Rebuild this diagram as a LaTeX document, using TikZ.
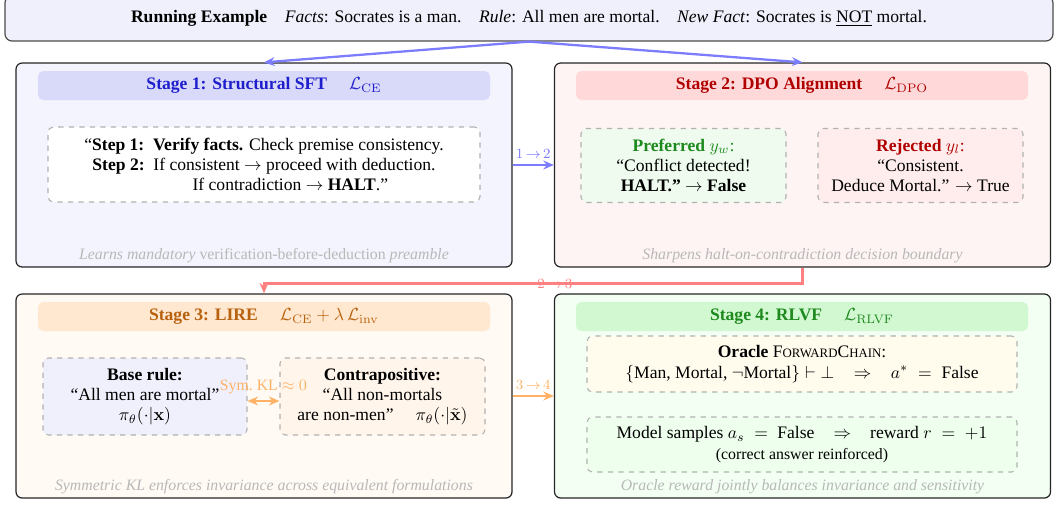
\documentclass[tikz,border=0pt]{standalone}
\usepackage{amsmath}
\usepackage{amssymb}
\usepackage[no-math]{fontspec}
\setmainfont{Liberation Serif}
\usepackage{tikz}
\usepackage{xcolor}
\usetikzlibrary{arrows.meta}

\definecolor{bannerfill}{HTML}{F0F0FC}
\definecolor{arrowblue}{HTML}{7C7CFF}
\definecolor{sonefill}{HTML}{F4F4FE}
\definecolor{sonehead}{HTML}{D9D9FA}
\definecolor{sonetext}{HTML}{1E1ECC}
\definecolor{stwofill}{HTML}{FFF4F4}
\definecolor{stwohead}{HTML}{FFD9D9}
\definecolor{stwotext}{HTML}{B00000}
\definecolor{redline}{HTML}{FF8080}
\definecolor{sthreefill}{HTML}{FFFAF4}
\definecolor{sthreehead}{HTML}{FFE8CF}
\definecolor{sthreetext}{HTML}{B8620F}
\definecolor{orangeline}{HTML}{FFB266}
\definecolor{sfourfill}{HTML}{F2FFF2}
\definecolor{sfourhead}{HTML}{D2F8D2}
\definecolor{sfourtext}{HTML}{1E8A1E}
\definecolor{prefill}{HTML}{EEFBEE}
\definecolor{rejfill}{HTML}{FFEDED}
\definecolor{basefill}{HTML}{F0F0FC}
\definecolor{contrafill}{HTML}{FFF5EB}
\definecolor{oraclefill}{HTML}{FFFCEE}
\definecolor{modelfill}{HTML}{EEFFEE}
\definecolor{footgray}{HTML}{B8B8B8}

\newcommand{\fsc}[1]{{\fontsize{7.3}{8}\selectfont #1}}

\begin{document}
\begin{tikzpicture}[
  stage/.style={draw=black!85, line width=0.7pt, rounded corners=3.5pt, minimum width=9.92cm, minimum height=4.08cm},
  head/.style={rounded corners=3pt, minimum width=9.04cm, minimum height=0.58cm, font=\bfseries},
  inner/.style={draw=black!30, dashed, line width=0.6pt, rounded corners=3pt, align=center, font=\fontsize{10}{11.5}\selectfont},
  foot/.style={text=footgray, font=\small\itshape},
  flow/.style={line width=1.3pt, -{Stealth[length=6pt,width=5pt]}},
  tag/.style={font=\footnotesize}
]
\useasboundingbox (0,0) rectangle (21.1,-10.1);

\node[draw=black!70, line width=0.7pt, rounded corners=4pt, fill=bannerfill, minimum width=20.96cm, minimum height=0.9cm] (R) at (10.58,-0.37)
  {\textbf{Running Example}\quad \textit{Facts}: Socrates is a man.\quad \textit{Rule}: All men are mortal.\quad \textit{New Fact}: Socrates is \underline{NOT} mortal.};

\node[stage, fill=sonefill] (S1) at (5.28,-3.30) {};
\node[stage, fill=stwofill] (S2) at (16.05,-3.30) {};
\node[stage, fill=sthreefill] (S3) at (5.28,-7.92) {};
\node[stage, fill=sfourfill] (S4) at (16.05,-7.92) {};

\node[head, fill=sonehead, text=sonetext] (H1) at (5.28,-1.71) {Stage 1: Structural SFT \quad $\mathcal{L}_{\mathrm{CE}}$};
\node[head, fill=stwohead, text=stwotext] (H2) at (16.04,-1.71) {Stage 2: DPO Alignment \quad $\mathcal{L}_{\mathrm{DPO}}$};
\node[head, fill=sthreehead, text=sthreetext] (H3) at (5.28,-6.33) {Stage 3: LIRE \quad $\mathcal{L}_{\mathrm{CE}} + \lambda\,\mathcal{L}_{\mathrm{inv}}$};
\node[head, fill=sfourhead, text=sfourtext] (H4) at (16.04,-6.33) {Stage 4: RLVF \quad $\mathcal{L}_{\mathrm{RLVF}}$};

\node[inner, fill=white, minimum width=8.64cm, minimum height=1.5cm] (I1) at (5.28,-3.29)
  {``\textbf{Step 1:}\enspace\textbf{Verify facts.} Check premise consistency.\\
   \textbf{Step 2:}\enspace If consistent $\rightarrow$ proceed with deduction.\\
   \hspace*{3em}If contradiction $\rightarrow$ \textbf{HALT}.''};

\node[inner, fill=prefill, minimum width=4.1cm, minimum height=1.48cm] (P) at (13.67,-3.31)
  {\textcolor{sfourtext}{\textbf{Preferred} $y_w$:}\\ ``Conflict detected!\\ \textbf{HALT.''} $\rightarrow$ \textbf{False}};
\node[inner, fill=rejfill, minimum width=4.1cm, minimum height=1.48cm] (N) at (18.41,-3.31)
  {\textcolor{stwotext}{\textbf{Rejected} $y_l$:}\\ ``Consistent.\\ Deduce Mortal.'' $\rightarrow$ True};

\node[inner, fill=basefill, minimum width=4.08cm, minimum height=1.54cm] (X) at (2.9,-7.93)
  {\textbf{Base rule:}\\ ``All men are mortal''\\ $\pi_\theta(\cdot|\mathbf{x})$};
\node[inner, fill=contrafill, minimum width=4.1cm, minimum height=1.54cm] (Y) at (7.65,-7.93)
  {\textbf{Contrapositive:}\\ ``All non-mortals\\ are non-men'' \quad $\pi_\theta(\cdot|\tilde{\mathbf{x}})$};

\node[inner, fill=oraclefill, minimum width=8.6cm, minimum height=1.12cm] (O) at (16.04,-7.28)
  {\textbf{Oracle} F\fsc{ORWARD}C\fsc{HAIN}:\\ $\{\text{Man, Mortal, }\neg\text{Mortal}\} \vdash \bot \;\;\;\Rightarrow\;\;\; a^{*} \;=\; \text{False}$};
\node[inner, fill=modelfill, minimum width=8.6cm, minimum height=1.1cm] (M) at (16.04,-8.89)
  {Model samples $a_s \;=\;$ False $\;\;\;\Rightarrow\;\;\;$ reward $r \;=\; +1$\\ {\small (correct answer reinforced)}};

\node[foot] (F1) at (5.28,-5.12) {Learns mandatory \upshape verification-before-deduction \itshape preamble};
\node[foot] (F2) at (16.05,-5.12) {Sharpens halt-on-contradiction decision boundary};
\node[foot] (F3) at (5.28,-9.74) {Symmetric KL enforces invariance across equivalent formulations};
\node[foot] (F4) at (16.05,-9.74) {Oracle reward jointly balances invariance and sensitivity};

\draw [flow, arrowblue] (R.south) -- (S1.north);
\draw [flow, arrowblue] (R.south) -- (S2.north);
\draw [flow, arrowblue] (S1.east) -- node[tag, above, text=arrowblue] {$1\,{\to}\,2$} (S2.west);
\draw [flow, redline] (S2.south) -- ++(0,-0.32) -| node[tag, pos=0.23, text=redline] {$2\,{\to}\,3$} (S3.north);
\draw [flow, orangeline] (S3.east) -- node[tag, above, text=orangeline] {$3\,{\to}\,4$} (S4.west);
\draw [line width=1.3pt, orangeline, {Stealth[length=6pt,width=5pt]}-{Stealth[length=6pt,width=5pt]}] ([yshift=-0.09cm]X.east) -- node[above, font=\small, text=orangeline] {Sym.\ KL $\approx 0$} ([yshift=-0.09cm]Y.west);
\end{tikzpicture}
\end{document}
